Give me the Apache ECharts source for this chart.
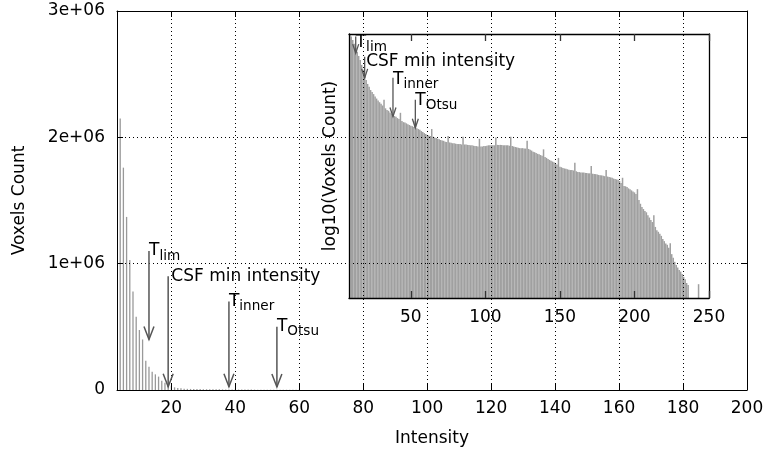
<!DOCTYPE html>
<html><head><meta charset="utf-8">
<script src="https://cdn.jsdelivr.net/npm/echarts@6/dist/echarts.min.js"></script>
<style>html,body{margin:0;padding:0;background:#fff}#c{width:769px;height:452px}</style>
</head><body><div id="c"></div>
<script>
// ---- main histogram (linear counts), intensities start at 4 ----
const mainStart = 4;
const mainCounts = [
  2150000,1760000,1370000,1030000,780000,580000,475000,400000,232000,185000,
  145000,124000,106000,74000,58000,40000,34000,21000,16000,13000,
  10000,9000,8500,8000,7500,7000,6500,6000,6500,5500,
  5200,5000,4700,4500,4200,4000,3800,3600,3400,3800,
  3200,3000,2900,2800,2700,2600,2500,2400,2300,2600,
  2200,2100,2000,1900,1800,1700,1600
];
// ---- inset histogram (log10 counts), intensities start at 9 ----
const insetStart = 9;
const insetLog = [
  6.48,6.44,6.35,6.26,6.16,6.06,5.96,5.86,5.74,5.62,
  5.47,5.37,5.27,5.20,5.12,5.07,5.02,4.96,4.91,4.86,
  4.82,4.78,4.74,4.88,4.67,4.63,4.61,4.57,4.54,4.51,
  4.48,4.46,4.43,4.41,4.56,4.36,4.33,4.32,4.30,4.28,
  4.26,4.24,4.23,4.21,4.36,4.18,4.16,4.14,4.11,4.09,
  4.06,4.04,4.01,4.00,3.99,4.16,3.97,3.95,3.94,3.92,
  3.91,3.89,3.88,3.87,3.85,3.84,3.99,3.83,3.82,3.81,
  3.81,3.80,3.79,3.79,3.79,3.78,3.97,3.78,3.78,3.77,
  3.77,3.76,3.76,3.75,3.74,3.74,3.73,3.92,3.73,3.73,
  3.74,3.74,3.75,3.76,3.76,3.76,3.76,3.76,3.95,3.77,
  3.77,3.77,3.77,3.76,3.76,3.76,3.76,3.75,3.97,3.74,
  3.73,3.72,3.71,3.70,3.69,3.69,3.69,3.68,3.68,3.87,
  3.67,3.65,3.63,3.60,3.59,3.57,3.55,3.54,3.52,3.50,
  3.66,3.47,3.45,3.42,3.40,3.38,3.36,3.34,3.31,3.29,
  3.45,3.23,3.22,3.20,3.19,3.18,3.17,3.16,3.15,3.15,
  3.14,3.33,3.12,3.10,3.10,3.09,3.09,3.09,3.08,3.08,
  3.07,3.07,3.25,3.06,3.05,3.05,3.04,3.03,3.02,3.02,
  3.01,3.00,3.15,2.99,2.98,2.97,2.96,2.94,2.93,2.92,
  2.91,2.88,2.83,2.96,2.76,2.75,2.73,2.70,2.68,2.65,
  2.62,2.60,2.56,2.68,2.41,2.32,2.24,2.19,2.14,2.11,
  2.04,1.98,1.92,1.87,2.04,1.75,1.67,1.63,1.58,1.53,
  1.45,1.40,1.34,1.31,1.24,1.35,1.08,0.99,0.89,0.81,
  0.75,0.69,0.65,0.59,0.52,0.46,0.37,0.32,null,null,
  null,null,null,null,0.34
];
// ---- ticks ----
const mainXTicks = [20,40,60,80,100,120,140,160,180,200];
const insetXTicks = [50,100,150,200,250];
// ---- threshold arrows ----
const arrowX = [13, 19, 38, 53];
const labelX = [13, 20, 38, 53];
const labelMain = ['T', 'CSF min intensity', 'T', 'T'];
const labelSub = ['lim', '', 'inner', 'Otsu'];
const mainArrowTop = [1100000, 900000, 700000, 500000];
const mainArrowTip = [400000, 26000, 26000, 24000];
const insetArrowTop = [6.44, 5.94, 5.42, 4.88];
const insetArrowTip = [6.03, 5.42, 4.47, 4.19];
const insetLabelY = [6.28, 5.81, 5.39, 4.86];

const FONT = 'DejaVu Sans';
const mainData = mainCounts.map((v, i) => [mainStart + i, v]);
const insetData = insetLog.map((v, i) => [insetStart + i, v]);
const mainArrows = arrowX.map((x, i) => [x, mainArrowTop[i], mainArrowTip[i], labelX[i], mainArrowTop[i], i]);
const insetArrows = arrowX.map((x, i) => [x, insetArrowTop[i], insetArrowTip[i], labelX[i], insetLabelY[i], i]);

function arrowRenderer(tipLen, half, lw) {
  return function (params, api) {
    const x = api.value(0), y0 = api.value(1), y1 = api.value(2);
    const lx = api.value(3), ly = api.value(4), idx = api.value(5);
    const p0 = api.coord([x, y0]), p1 = api.coord([x, y1]);
    const pl = api.coord([lx, ly]);
    const col = '#555';
    const children = [
      {type: 'line', shape: {x1: p0[0], y1: p0[1], x2: p1[0], y2: p1[1]}, style: {stroke: col, lineWidth: lw}},
      {type: 'polyline', shape: {points: [[p1[0] - half, p1[1] - tipLen], [p1[0], p1[1]], [p1[0] + half, p1[1] - tipLen]]},
        style: {stroke: col, lineWidth: lw, fill: null}},
      {type: 'text', style: {text: labelMain[idx], x: pl[0], y: pl[1], font: '17px "' + FONT + '"', fill: '#000',
        align: 'left', verticalAlign: 'middle'}}
    ];
    if (labelSub[idx]) {
      children.push({type: 'text', style: {text: labelSub[idx], x: pl[0] + 10.4, y: pl[1] + 5,
        font: '13.6px "' + FONT + '"', fill: '#000', align: 'left', verticalAlign: 'middle'}});
    }
    return {type: 'group', children: children};
  };
}

const black = {color: '#000', width: 1};
const dotted = {color: '#000', width: 1, type: [1, 3]};
const insetLine = {color: '#000', width: 1.3};

const chart = echarts.init(document.getElementById('c'), null, {renderer: 'canvas'});
chart.setOption({
  animation: false,
  backgroundColor: '#fff',
  textStyle: {fontFamily: FONT},
  grid: [
    {left: 117, right: 22, top: 11, bottom: 62, show: false},
    {left: 349, top: 34, width: 360, height: 264, show: false}
  ],
  xAxis: [
    {gridIndex: 0, type: 'value', min: 3, max: 200, position: 'bottom', z: 5,
      axisLine: {show: true, onZero: false, lineStyle: black},
      axisTick: {show: true, inside: true, length: 6, customValues: mainXTicks, lineStyle: black},
      axisLabel: {customValues: mainXTicks, margin: 10, fontSize: 17, color: '#000', fontFamily: FONT},
      splitLine: {show: true, lineStyle: dotted},
      name: 'Intensity', nameLocation: 'middle', nameGap: 40,
      nameTextStyle: {fontSize: 17, color: '#000', fontFamily: FONT}},
    {gridIndex: 0, type: 'value', min: 3, max: 200, position: 'top', z: 5,
      axisLine: {show: true, onZero: false, lineStyle: black},
      axisTick: {show: true, inside: true, length: 6, customValues: mainXTicks, lineStyle: black},
      axisLabel: {show: false}, splitLine: {show: false}},
    {gridIndex: 1, type: 'value', min: 8.5, max: 250, position: 'bottom', z: 6,
      axisLine: {show: true, onZero: false, lineStyle: insetLine},
      axisTick: {show: true, inside: true, length: 7, customValues: insetXTicks, lineStyle: {color: '#333', width: 1.3}},
      axisLabel: {customValues: insetXTicks, margin: 11, fontSize: 17, color: '#000', fontFamily: FONT},
      splitLine: {show: false}},
    {gridIndex: 1, type: 'value', min: 8.5, max: 250, position: 'top', z: 6,
      axisLine: {show: true, onZero: false, lineStyle: insetLine},
      axisTick: {show: true, inside: true, length: 7, customValues: insetXTicks, lineStyle: {color: '#333', width: 1.3}},
      axisLabel: {show: false}, splitLine: {show: false}}
  ],
  yAxis: [
    {gridIndex: 0, type: 'value', min: 0, max: 3000000, interval: 1000000, position: 'left', z: 5,
      axisLine: {show: true, onZero: false, lineStyle: black},
      axisTick: {show: true, inside: true, length: 6, lineStyle: black},
      axisLabel: {margin: 12, fontSize: 17, color: '#000', fontFamily: FONT,
        formatter: v => v === 0 ? '0' : (v / 1e6) + 'e+06'},
      splitLine: {show: true, lineStyle: dotted},
      name: 'Voxels Count', nameLocation: 'middle', nameGap: 89,
      nameTextStyle: {fontSize: 17, color: '#000', fontFamily: FONT}},
    {gridIndex: 0, type: 'value', min: 0, max: 3000000, interval: 1000000, position: 'right', z: 5,
      axisLine: {show: true, onZero: false, lineStyle: black},
      axisTick: {show: true, inside: true, length: 6, lineStyle: black},
      axisLabel: {show: false}, splitLine: {show: false}},
    {gridIndex: 1, type: 'value', min: 0, max: 6.5, position: 'left', z: 6,
      axisLine: {show: true, onZero: false, lineStyle: insetLine},
      axisTick: {show: false}, axisLabel: {show: false}, splitLine: {show: false},
      name: 'log10(Voxels Count)', nameLocation: 'middle', nameGap: 10,
      nameTextStyle: {fontSize: 17, color: '#000', fontFamily: FONT}},
    {gridIndex: 1, type: 'value', min: 0, max: 6.5, position: 'right', z: 6,
      axisLine: {show: true, onZero: false, lineStyle: insetLine},
      axisTick: {show: false}, axisLabel: {show: false}, splitLine: {show: false}}
  ],
  series: [
    {type: 'bar', xAxisIndex: 0, yAxisIndex: 0, data: mainData, barWidth: 1.3, z: 2,
      itemStyle: {color: '#999'}, silent: true},
    {type: 'bar', xAxisIndex: 2, yAxisIndex: 2, data: insetData, barWidth: 1.5, z: 2,
      itemStyle: {color: '#a0a0a0'}, silent: true},
    {type: 'custom', xAxisIndex: 0, yAxisIndex: 0, data: mainArrows, z: 8, silent: true,
      encode: {x: 0, y: 1}, renderItem: arrowRenderer(13, 5, 1.5)},
    {type: 'custom', xAxisIndex: 2, yAxisIndex: 2, data: insetArrows, z: 8, silent: true,
      encode: {x: 0, y: 1}, renderItem: arrowRenderer(9, 3, 1.3)}
  ]
});
</script>
</body></html>
